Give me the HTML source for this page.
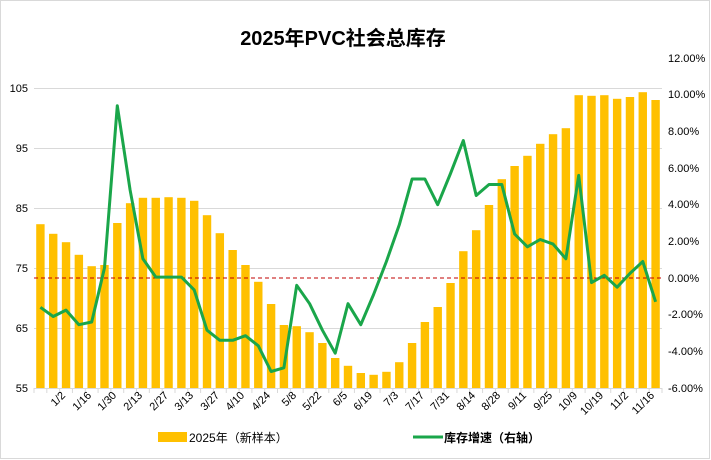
<!DOCTYPE html>
<html><head><meta charset="utf-8"><style>
html,body{margin:0;padding:0;background:#fff;}
svg{display:block;font-family:"Liberation Sans","Noto Sans CJK SC",sans-serif;}
</style></head><body>
<svg id="c" width="711" height="460" viewBox="0 0 711 460" xmlns="http://www.w3.org/2000/svg">
<rect x="0.5" y="0.5" width="709" height="458" fill="#fff" stroke="#d9d9d9"/>
<text x="343" y="45" text-anchor="middle" font-size="20" font-weight="bold" fill="#000">2025年PVC社会总库存</text>
<g stroke="#d9d9d9" stroke-width="1">
<line x1="34" x2="662" y1="88.5" y2="88.5"/>
<line x1="34" x2="662" y1="148.5" y2="148.5"/>
<line x1="34" x2="662" y1="208.5" y2="208.5"/>
<line x1="34" x2="662" y1="268.5" y2="268.5"/>
<line x1="34" x2="662" y1="328.5" y2="328.5"/>
</g>
<g id="bars" fill="#ffc000"></g>
<line x1="34" x2="662" y1="388.5" y2="388.5" stroke="#d9d9d9"/>
<g id="ticks" stroke="#d9d9d9"></g>
<line x1="34" x2="662" y1="278" y2="278" stroke="#c00000" stroke-dasharray="4,3" stroke-width="1"/>
<polyline id="ln" fill="none" stroke="#1aa64a" stroke-width="3" stroke-linejoin="round"/>
<g font-size="11" fill="#000" text-anchor="end">
<text x="28" y="92">105</text><text x="28" y="152">95</text><text x="28" y="212">85</text>
<text x="28" y="272">75</text><text x="28" y="332">65</text><text x="28" y="392">55</text>
</g>
<g font-size="11" fill="#000" text-anchor="start">
<text x="668" y="62">12.00%</text><text x="668" y="98">10.00%</text><text x="668" y="135">8.00%</text>
<text x="668" y="172">6.00%</text><text x="668" y="208">4.00%</text><text x="668" y="245">2.00%</text>
<text x="668" y="282">0.00%</text><text x="668" y="318">-2.00%</text><text x="668" y="355">-4.00%</text>
<text x="668" y="392">-6.00%</text>
</g>
<g font-size="11" fill="#000" text-anchor="end">
<text transform="translate(66,396) rotate(-45)">1/2</text>
<text transform="translate(92,396) rotate(-45)">1/16</text>
<text transform="translate(117,396) rotate(-45)">1/30</text>
<text transform="translate(143,396) rotate(-45)">2/13</text>
<text transform="translate(169,396) rotate(-45)">2/27</text>
<text transform="translate(194,396) rotate(-45)">3/13</text>
<text transform="translate(220,396) rotate(-45)">3/27</text>
<text transform="translate(245,396) rotate(-45)">4/10</text>
<text transform="translate(271,396) rotate(-45)">4/24</text>
<text transform="translate(297,396) rotate(-45)">5/8</text>
<text transform="translate(322,396) rotate(-45)">5/22</text>
<text transform="translate(348,396) rotate(-45)">6/5</text>
<text transform="translate(373,396) rotate(-45)">6/19</text>
<text transform="translate(399,396) rotate(-45)">7/3</text>
<text transform="translate(425,396) rotate(-45)">7/17</text>
<text transform="translate(450,396) rotate(-45)">7/31</text>
<text transform="translate(476,396) rotate(-45)">8/14</text>
<text transform="translate(501,396) rotate(-45)">8/28</text>
<text transform="translate(527,396) rotate(-45)">9/11</text>
<text transform="translate(553,396) rotate(-45)">9/25</text>
<text transform="translate(578,396) rotate(-45)">10/9</text>
<text transform="translate(604,396) rotate(-45)">10/19</text>
<text transform="translate(629,396) rotate(-45)">11/2</text>
<text transform="translate(655,396) rotate(-45)">11/16</text>
</g>
<rect x="158" y="432" width="29" height="10" fill="#ffc000"/>
<text x="189" y="442" font-size="12" fill="#000">2025年（新样本）</text>
<line x1="413" x2="443" y1="437" y2="437" stroke="#1aa64a" stroke-width="3"/>
<text x="444" y="442" font-size="12" font-weight="bold" fill="#000">库存增速（右轴）</text>
</svg>
<script>
var b=[82.3,80.7,79.3,77.2,75.3,75.5,82.5,85.8,86.7,86.7,86.8,86.7,86.2,83.8,80.8,78,75.5,72.7,69,65.5,65.3,64.3,62.5,60,58.7,57.5,57.2,57.7,59.3,62.5,66,68.5,72.5,77.8,81.3,85.5,89.8,92,93.7,95.7,97.3,98.3,103.8,103.7,103.8,103.2,103.5,104.3,103];
var l=[-1.6,-2.1,-1.75,-2.55,-2.4,0.55,9.4,4.8,1.05,0.05,0.05,0.05,-0.65,-2.85,-3.4,-3.4,-3.15,-3.7,-5.1,-4.9,-0.4,-1.4,-2.85,-4.1,-1.4,-2.55,-0.9,0.9,2.9,5.4,5.4,4.0,5.7,7.5,4.5,5.1,5.1,2.4,1.7,2.1,1.85,1.05,5.6,-0.25,0.15,-0.5,0.25,0.9,-1.3];
var ns="http://www.w3.org/2000/svg",w=628/49,g=document.getElementById("bars"),t=document.getElementById("ticks"),pts=[];
for(var i=0;i<49;i++){var cx=34+w*(i+0.5);var y=88+(105-b[i])*6;
var r=document.createElementNS(ns,"rect");r.setAttribute("x",cx-4.2);r.setAttribute("width",8.4);r.setAttribute("y",y);r.setAttribute("height",388-y);g.appendChild(r);
pts.push(cx.toFixed(1)+","+(278-18.33*l[i]).toFixed(1));}
for(var i=0;i<=49;i++){var x=34+w*i;var k=document.createElementNS(ns,"line");k.setAttribute("x1",x);k.setAttribute("x2",x);k.setAttribute("y1",388);k.setAttribute("y2",393);t.appendChild(k);}
document.getElementById("ln").setAttribute("points",pts.join(" "));
</script>
</body></html>
